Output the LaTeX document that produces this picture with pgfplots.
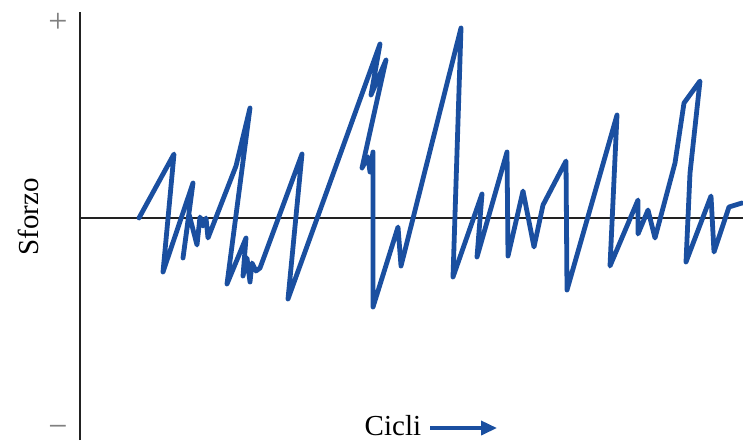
\documentclass[border=0pt]{standalone}
\usepackage{pgfplots}
\pgfplotsset{compat=1.18}
\usepackage{fontspec}
\setmainfont{Liberation Serif}
\usetikzlibrary{arrows.meta}
\definecolor{lineblue}{HTML}{1A4FA0}
\definecolor{axisgray}{HTML}{222222}
\begin{document}
\begin{tikzpicture}
\begin{axis}[
  scale only axis,
  width=331.5pt, height=214pt,
  xmin=80, xmax=743, ymin=-222, ymax=206,
  axis y line=left, axis x line=middle,
  axis line style={-, axisgray, line width=1pt},
  x axis line style={line width=1.3pt},
  xtick=\empty,
  ytick={195,-213}, yticklabels={+,−},
  major tick length=0pt,
  yticklabel style={text=gray, font=\fontsize{17}{17}\selectfont, inner sep=0pt, xshift=-6pt},
  clip=false,
  xlabel={}, ylabel={},
]
\addplot[lineblue, line width=2.4pt, line join=round, line cap=round] coordinates {
(139,0) (174,64) (163,-54) (193,35) (183,-40) (189,4) (197,-27) (200,1) (203,-8) (206,0) (208,-20)
(236,52) (250,110) (227,-66) (246,-20) (243,-58) (247,-40) (250,-64) (252,-45) (256,-53) (260,-50)
(302,64) (288,-81) (380,174) (371,123) (386,158) (362,50) (368,61) (370,46) (373,66) (373,-89)
(398,-9) (401,-48) (461,190) (453,-59) (482,24) (477,-39) (507,66) (508,-38) (523,27) (534,-29)
(543,13) (566,57) (567,-72) (617,103) (610,-48) (638,18) (638,-16) (648,8) (655,-20) (675,55)
(684,115) (700,137) (690,45) (686,-44) (711,22) (714,-34) (729,11) (742,15)
};
\node[rotate=90, anchor=center, font=\fontsize{14.5}{17}\selectfont] at (axis description cs:-0.0784,0.521) {Sforzo};
\node[anchor=base, inner sep=0pt, font=\fontsize{14.5}{17}\selectfont] at (axis description cs:0.472,0.01) {Cicli};
\draw[lineblue, line width=1.8pt, -{Triangle[length=8pt,width=7pt]}] (axis description cs:0.528,0.028) -- (axis description cs:0.629,0.028);
\end{axis}
\pgfresetboundingbox
\path (-40pt,0pt) rectangle (331.5pt,220pt);
\end{tikzpicture}
\end{document}
